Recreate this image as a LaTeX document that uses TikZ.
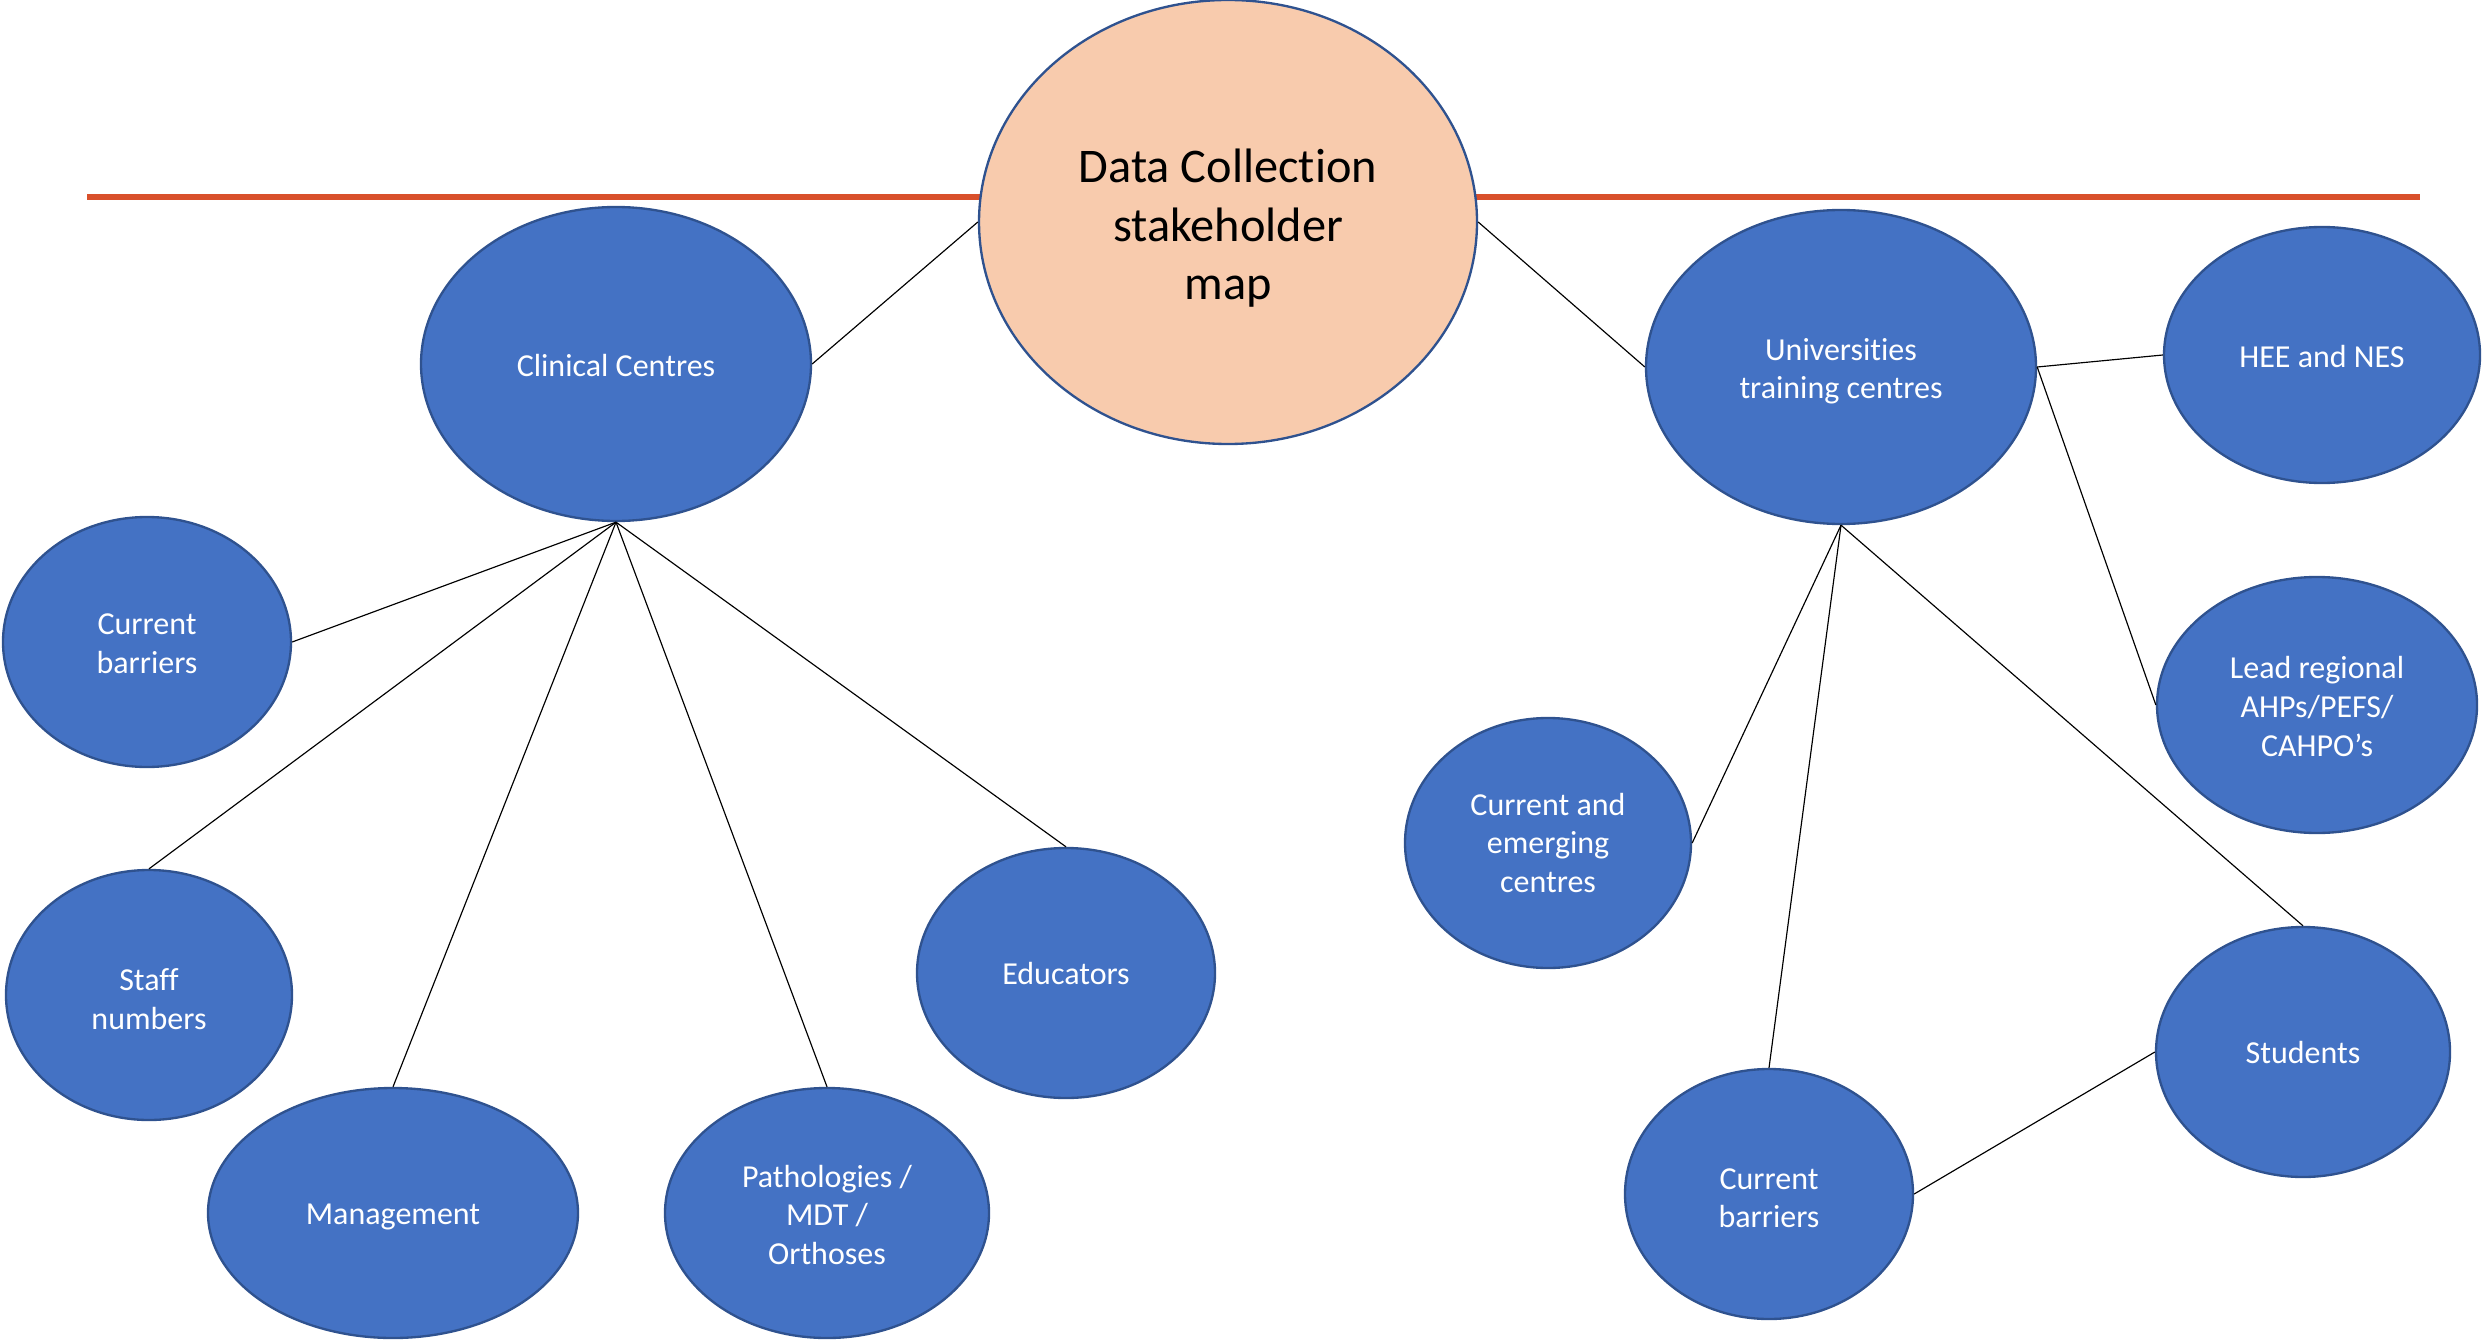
\documentclass[tikz,border=0pt]{standalone}
\usepackage{fontspec}
\setmainfont[Ligatures=NoCommon]{Carlito}
\usetikzlibrary{shapes.geometric}
\definecolor{bfill}{HTML}{4472C4}
\definecolor{bline}{HTML}{2F528F}
\definecolor{peach}{HTML}{F8CBAD}
\definecolor{redline}{HTML}{D9502B}
\begin{document}
\begin{tikzpicture}[x=0.3pt,y=-0.3pt,
  bub/.style={ellipse,draw=bline,line width=0.7pt,fill=bfill,inner sep=0pt},
  hub/.style={ellipse,draw=bline,line width=0.7pt,fill=peach,inner sep=0pt},
  btxt/.style={text=white,inner sep=0pt,align=center,font=\fontsize{9.6}{11.6}\selectfont},
  htxt/.style={text=black,inner sep=0pt,align=center,font=\fontsize{14.5}{17.6}\selectfont},
  link/.style={draw=black,line width=0.35pt}]
\useasboundingbox (0,0) rectangle (2484,1340);
\draw[redline,line width=1.6pt] (87,197) -- (2420,197);
\node[hub,minimum width=149.4pt,minimum height=133.2pt] (dc) at (1228,222) {};
\node[htxt] (dct) at ([yshift=-1.9pt]dc.center) {Data Collection\\stakeholder\\map};
\node[bub,minimum width=117pt,minimum height=94.2pt] (cc) at (616,364) {};
\node[btxt] (cct) at ([yshift=-0.5pt]cc.center) {Clinical Centres};
\node[bub,minimum width=86.4pt,minimum height=75pt] (cb1) at (147,642) {};
\node[btxt] (cb1t) at ([yshift=-0.5pt]cb1.center) {Current\\barriers};
\node[bub,minimum width=85.8pt,minimum height=75pt] (sn) at (149,995) {};
\node[btxt] (snt) at ([yshift=-1.3pt]sn.center) {Staff\\numbers};
\node[bub,minimum width=111pt,minimum height=75pt] (mg) at (393,1213) {};
\node[btxt] (mgt) at ([yshift=-1.3pt]mg.center) {Management};
\node[bub,minimum width=97.2pt,minimum height=75pt] (pa) at (827,1213) {};
\node[btxt] (pat) at ([yshift=-0.5pt]pa.center) {Pathologies /\\MDT /\\Orthoses};
\node[bub,minimum width=89.4pt,minimum height=75pt] (ed) at (1066,973) {};
\node[btxt] (edt) at (ed.center) {Educators};
\node[bub,minimum width=117pt,minimum height=94.2pt] (un) at (1841,367) {};
\node[btxt] (unt) at ([yshift=-1.3pt]un.center) {Universities\\training centres};
\node[bub,minimum width=94.8pt,minimum height=76.8pt] (hee) at (2322,355) {};
\node[btxt] (heet) at ([yshift=-0.5pt]hee.center) {HEE and NES};
\node[bub,minimum width=96pt,minimum height=76.8pt] (lr) at (2317,705) {};
\node[btxt] (lrt) at ([yshift=-0.5pt]lr.center) {Lead regional\\AHPs/PEFS/\\CAHPO’s};
\node[bub,minimum width=85.8pt,minimum height=75pt] (ce) at (1548,843) {};
\node[btxt] (cet) at (ce.center) {Current and\\emerging\\centres};
\node[bub,minimum width=86.4pt,minimum height=75pt] (cb2) at (1769,1194) {};
\node[btxt] (cb2t) at ([yshift=-1.3pt]cb2.center) {Current\\barriers};
\node[bub,minimum width=88.2pt,minimum height=75pt] (st) at (2303,1052) {};
\node[btxt] (stt) at (st.center) {Students};
\draw[link] (dc.west) -- (cc.east);
\draw[link] (dc.east) -- (un.west);
\draw[link] (cc.south) -- (cb1.east);
\draw[link] (cc.south) -- (sn.north);
\draw[link] (cc.south) -- (mg.north);
\draw[link] (cc.south) -- (pa.north);
\draw[link] (cc.south) -- (ed.north);
\draw[link] (un.east) -- (hee.west);
\draw[link] (un.east) -- (lr.west);
\draw[link] (un.south) -- (ce.east);
\draw[link] (un.south) -- (cb2.north);
\draw[link] (un.south) -- (st.north);
\draw[link] (st.west) -- (cb2.east);
\end{tikzpicture}
\end{document}
